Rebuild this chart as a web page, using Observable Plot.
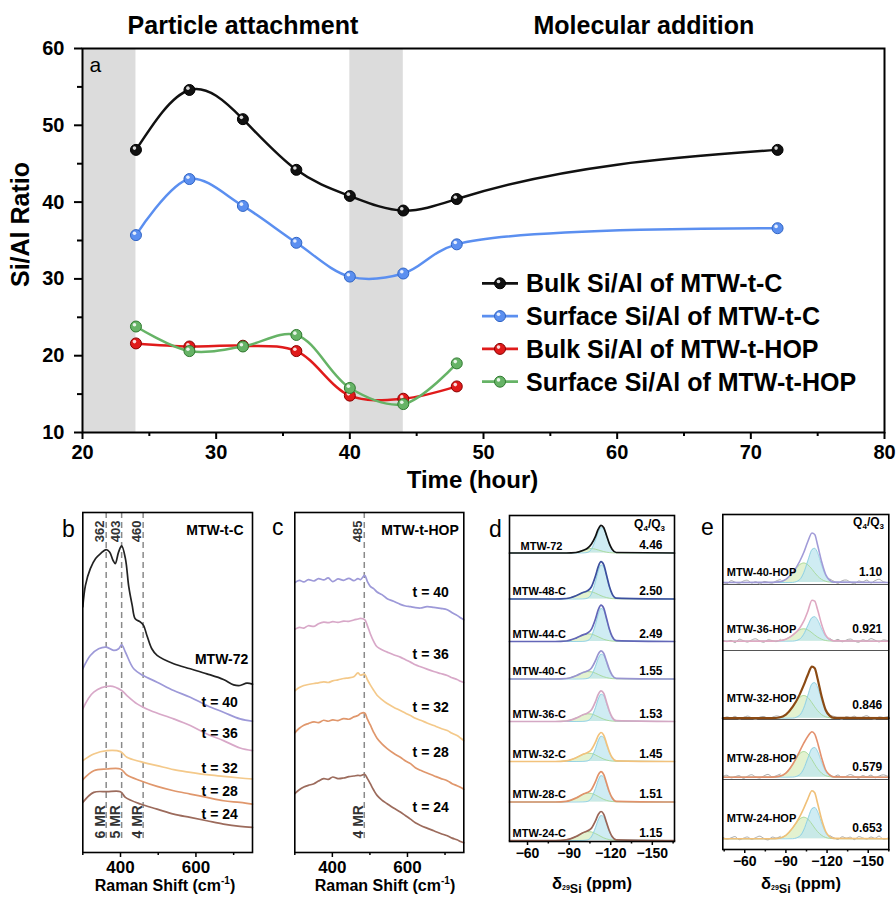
<!DOCTYPE html>
<html><head><meta charset="utf-8">
<script src="https://cdn.jsdelivr.net/npm/d3@7"></script>
<script src="https://cdn.jsdelivr.net/npm/@observablehq/plot@0.6"></script>
<style>
html,body{margin:0;padding:0;background:#fff;}
#root{position:relative;width:896px;height:897px;overflow:hidden;background:#fff;}
</style></head>
<body><div id="root"></div>
<script>
const FONT = "'Liberation Sans', Arial, Helvetica, sans-serif";

// ---------------- Panel a data ----------------
const hoursC = [24, 28, 32, 36, 40, 44, 48, 72];
const bulkC = [46.8, 54.6, 50.8, 44.2, 40.8, 38.9, 40.4, 46.8];
const surfC = [35.7, 43.0, 39.5, 34.7, 30.3, 30.7, 34.5, 36.6];
const hoursHOP = [24, 28, 32, 36, 40, 44, 48];
const bulkHOP = [21.6, 21.2, 21.3, 20.6, 14.8, 14.4, 16.0];
const surfHOP = [23.8, 20.6, 21.2, 22.7, 15.8, 13.7, 19.0];
const seriesNames = ["Bulk Si/Al of MTW-t-C", "Surface Si/Al of MTW-t-C", "Bulk Si/Al of MTW-t-HOP", "Surface Si/Al of MTW-t-HOP"];
const seriesColors = ["#111111", "#5b8ff0", "#e01b1b", "#66b366"];
const seriesEdge = ["#000000", "#3064c4", "#8a0000", "#2f7a2f"];
const bandStart = [20, 40];
const bandEnd = [24, 44];
const phaseNames = ["Particle attachment", "Molecular addition"];
const phaseStart = [20, 44];
const phaseEnd = [44, 80];
const xTicksA = [20, 30, 40, 50, 60, 70, 80];
const xMinorA = [25, 35, 45, 55, 65, 75];
const yTicksA = [10, 20, 30, 40, 50, 60];
const yMinorA = [15, 25, 35, 45, 55];

// ---------------- Panel b data (Raman, MTW-t-C) ----------------
const bNames = ["MTW-72", "t = 40", "t = 36", "t = 32", "t = 28", "t = 24"];
const bColors = ["#222222", "#9d99d8", "#d8a8c8", "#f4c98a", "#e0976c", "#9c6b5c"];
const bShift72 = [300,307,320,334,347,362,371,380,386,395,403,413,422,431,439,453,461,470,483,497,541,585,629,673,700,717,735,750];
const bInt72 = [735,800,850,880,895,907,900,875,865,900,918,880,795,740,700,690,680,650,610,590,565,550,535,518,502,500,507,504];
const bShift40 = [300,320,342,362,382,395,403,413,435,460,497,541,585,629,673,717,750];
const bInt40 = [550,590,610,615,605,610,622,600,550,530,510,485,465,440,420,400,393];
const bShift36 = [300,329,373,403,417,444,479,541,585,629,673,717,750];
const bInt36 = [430,480,498,485,470,445,425,400,380,355,335,313,305];
const bShift32 = [300,329,364,400,417,453,497,541,585,629,673,717,750];
const bInt32 = [275,295,305,302,285,272,260,248,240,233,228,223,220];
const bShift28 = [300,329,364,400,417,453,497,541,585,629,673,717,750];
const bInt28 = [218,245,250,250,232,215,198,185,175,165,155,150,145];
const bShift24 = [300,329,364,400,413,453,497,541,585,629,673,717,750];
const bInt24 = [150,180,182,182,165,145,130,115,105,95,85,78,75];
const bPeaks = [362, 403, 460];
const bModes = ["6 MR", "5 MR", "4 MR"];
const bLabelX = [739, 711, 711, 711, 711, 711];
const bLabelY = [565, 435, 342, 238, 170, 100];

// ---------------- Panel c data (Raman, MTW-t-HOP) ----------------
const cNames = ["t = 40", "t = 36", "t = 32", "t = 28", "t = 24"];
const cColors = ["#9d99d8", "#d8a8c8", "#f4c98a", "#e0976c", "#9c6b5c"];
const cShift = [300,312,324,336,351,363,377,389,401,415,430,444,457,468,475,486,493,501,510,519,532,546,563,581,595,608,621,635,652,670,688,706,719,732,741,750];
const cInt40 = [808,815,810,817,813,820,816,822,811,819,815,821,814,820,817,830,812,797,790,780,772,760,752,743,738,736,733,732,736,734,731,727,718,710,703,697];
const cInt36 = [668,674,672,679,677,685,690,688,691,689,693,692,696,699,701,697,680,655,632,616,607,600,592,585,577,570,562,556,549,542,536,530,523,518,513,509];
const cInt32 = [484,494,500,503,506,508,511,509,514,517,521,523,526,538,531,534,518,502,486,471,458,446,435,425,417,410,402,396,388,380,372,365,357,350,343,335];
const cInt28 = [358,372,381,386,391,389,396,393,397,395,401,399,406,410,416,418,400,382,360,342,325,311,297,285,274,266,254,246,238,230,222,215,206,200,195,189];
const cInt24 = [176,188,196,201,206,214,221,219,226,221,223,227,229,231,230,234,222,206,187,171,157,146,133,121,110,100,89,81,73,65,57,50,43,38,33,29];
const cPeaks = [485];
const cModes = ["4 MR"];
const cLabelX = [710, 710, 710, 710, 710];
const cLabelY = [765, 580, 420, 285, 120];

// ---------------- Panel d data (29Si NMR, MTW-t-C) ----------------
const dPpm = [-47,-80,-88,-95,-100,-103,-106,-109,-111,-113,-115,-117,-119,-121,-124,-166];
const dSamples = ["MTW-72","MTW-48-C","MTW-44-C","MTW-40-C","MTW-36-C","MTW-32-C","MTW-28-C","MTW-24-C"];
const dRatios = ["4.46","2.50","2.49","1.55","1.53","1.45","1.51","1.15"];
const dColors = ["#111111","#3c4f9e","#6366b8","#9994d0","#d4a8c4","#f2c27c","#e0926a","#9a6658"];
const dOffsets = [288.5, 242.5, 200, 162.5, 120, 80, 39.5, 1];
const dEnv = [
  [0,0,0,0.5,2.6,4.5,8.8,16.7,23.8,27.6,25.3,17.5,9.4,3.8,0.5,0],
  [0,0,0.5,3.3,6.5,8.1,12,23,32.4,37.3,34.1,23.7,12.8,5.2,0.9,0],
  [0,0,0.5,3.4,6.6,8.3,12.1,22.6,31.7,36.4,33.2,23,12.5,5.1,0.9,0],
  [0,0,0.5,3.3,6.5,7.9,10.7,18.3,24.9,28.1,25.5,17.7,9.6,3.9,0.7,0],
  [0,0,0.5,3.4,6.7,8.3,11.4,19.8,27.2,30.7,28,19.3,10.5,4.3,0.8,0],
  [0,0,0.6,3.7,7.2,8.8,11.7,19.3,25.8,29,26.2,18.1,9.8,4,0.7,0],
  [0,0,0.6,4,7.8,9.4,12.3,20.3,27.1,30.4,27.4,19,10.2,4.2,0.7,0],
  [0,0,0.6,4,7.8,9.4,12.1,19.6,26,29,26.1,18,9.8,4,0.7,0]
];
const dQ4 = [
  [0,0,0,0,0.1,0.5,3.6,12.9,20.8,25.4,23.9,16.7,9,3.6,0.5,0],
  [0,0,0,0,0.1,0.7,4.8,17.2,27.8,34,31.9,22.3,12,4.8,0.7,0],
  [0,0,0,0,0.1,0.7,4.7,16.7,27,33,31,21.6,11.7,4.7,0.7,0],
  [0,0,0,0,0.1,0.5,3.5,12.5,20.3,24.8,23.3,16.3,8.8,3.5,0.5,0],
  [0,0,0,0,0.1,0.6,3.9,13.8,22.4,27.3,25.7,17.9,9.7,3.9,0.6,0],
  [0,0,0,0,0.1,0.5,3.6,12.8,20.7,25.3,23.8,16.6,9,3.6,0.5,0],
  [0,0,0,0,0.1,0.5,3.7,13.4,21.6,26.4,24.8,17.4,9.3,3.7,0.5,0],
  [0,0,0,0,0.1,0.5,3.5,12.7,20.5,25,23.5,16.4,8.9,3.5,0.5,0]
];
const dQ3 = [
  [0,0,0,0.5,2.5,4,4.5,3.8,3,2.2,1.4,0.8,0.4,0.2,0,0],
  [0,0,0.5,3.3,6.4,7.4,7.2,5.8,4.6,3.3,2.2,1.4,0.8,0.4,0.2,0],
  [0,0,0.5,3.4,6.5,7.6,7.4,5.9,4.7,3.4,2.2,1.4,0.8,0.4,0.2,0],
  [0,0,0.5,3.3,6.4,7.4,7.2,5.8,4.6,3.3,2.2,1.4,0.8,0.4,0.2,0],
  [0,0,0.5,3.4,6.6,7.7,7.5,6,4.8,3.4,2.3,1.4,0.8,0.4,0.2,0],
  [0,0,0.6,3.7,7.1,8.3,8.1,6.5,5.1,3.7,2.4,1.5,0.8,0.4,0.2,0],
  [0,0,0.6,4,7.7,8.9,8.6,6.9,5.5,4,2.6,1.6,0.9,0.5,0.2,0],
  [0,0,0.6,4,7.7,8.9,8.6,6.9,5.5,4,2.6,1.6,0.9,0.5,0.2,0]
];

// ---------------- Panel e data (29Si NMR, MTW-t-HOP) ----------------
const ePpm = [-44,-80,-85,-90,-95,-100,-103,-106,-109,-111,-113,-116,-119,-122,-125,-165];
const eSamples = ["MTW-40-HOP","MTW-36-HOP","MTW-32-HOP","MTW-28-HOP","MTW-24-HOP"];
const eRatios = ["1.10","0.921","0.846","0.579","0.653"];
const eColors = ["#a19bd8","#dfa8c2","#8b4a14","#e3916e","#f0c078"];
const eWidths = [1.6, 1.6, 2.2, 1.6, 1.6];
const eOffsets = [267, 208.3, 131.3, 72.3, 10.7];
const eSeparators = [265, 199, 130, 70];
const eNameY = [274, 216.3, 147.3, 87.3, 27.7];
const eRatioY = [274, 216.3, 140.7, 79, 17.3];
const eEnv = [
  [0,0.1,0.6,3.1,10,21,30,41,49.5,48,38,21,8,2.2,0.4,0],
  [0,0.1,0.5,2,6,13,20,30,41,40,32,17,6,1.8,0.3,0],
  [0,0.1,0.7,3.6,11.5,23.6,33,43.5,51.5,50,40,22,8.2,2.3,0.4,0],
  [0,0.1,0.8,4.1,13,25.8,34,41,45.5,43,35,19.5,7.2,2,0.3,0],
  [0,0.1,0.6,3.5,11,22,30.5,40,48,46,36,19.5,7.3,2,0.4,0]
];
const eQ4 = [
  [0,0,0,0,0.1,2.8,9.7,21.7,32.8,34.2,30,17.3,6.6,1.7,0.3,0],
  [0,0,0,0,0.1,2,6.9,15.6,23.5,24.5,21.5,12.4,4.7,1.2,0.2,0],
  [0,0,0,0,0.1,2.9,10.1,22.7,34.2,35.6,31.3,18,6.8,1.8,0.3,0],
  [0,0,0,0,0.1,2.4,8.4,18.9,28.5,29.7,26.1,15,5.7,1.5,0.2,0],
  [0,0,0,0,0.1,2.5,8.8,19.9,30,31.3,27.5,15.8,6,1.6,0.3,0]
];
const eQ3 = [
  [0,0.1,0.6,3.1,9.8,17.7,19.5,17.7,13.3,9.8,6.6,3.1,1.2,0.4,0.1,0],
  [0,0,0.4,2,6.2,11.3,12.4,11.3,8.4,6.2,4.2,2,0.7,0.2,0.1,0],
  [0,0.1,0.7,3.6,11.4,20.7,22.7,20.7,15.4,11.4,7.7,3.6,1.4,0.5,0.1,0],
  [0,0.1,0.8,4.1,12.9,23.4,25.7,23.4,17.5,12.9,8.7,4.1,1.5,0.5,0.1,0],
  [0,0.1,0.6,3.5,10.8,19.7,21.6,19.7,14.7,10.8,7.3,3.5,1.3,0.4,0.1,0]
];
const eNoiseLeftPpm = [-44,-47,-50,-53,-56,-59,-62,-65,-68,-71,-74,-77,-80,-83,-86];
const eNoiseRightPpm = [-122,-125,-128,-131,-134,-137,-140,-143,-146,-149,-152,-155,-158,-161,-165];
const eNoiseLeft = [
  [0.5,-1.2,1.8,0.3,-0.8,1.5,2.2,-0.5,0.8,-1.5,1.0,0.2,-0.6,1.6,3.0],
  [1.0,-0.5,0.8,-1.4,2.0,0.5,-0.9,1.2,2.4,0.1,-1.0,1.4,0.6,-0.4,1.8],
  [-0.6,1.4,0.2,1.9,-1.0,0.8,2.1,0.4,-1.3,1.1,1.7,-0.2,0.9,2.3,1.5],
  [0.8,2.0,-0.7,0.5,1.6,-1.2,0.9,2.5,0.2,-0.8,1.3,2.8,0.4,1.5,3.2],
  [1.5,-0.3,0.9,2.2,-0.9,0.6,1.8,-0.5,1.2,2.6,0.3,-1.1,1.7,0.8,2.4]
];
const eNoiseRight = [
  [3.5,1.2,-0.8,1.8,2.5,0.3,-1.2,1.5,0.6,2.4,-0.5,1.9,3.2,0.8,-0.4],
  [2.8,0.5,1.8,-0.6,1.1,2.2,0.2,-1.1,1.5,0.4,2.6,1.0,-0.7,1.3,0.2],
  [3.0,1.8,0.3,-0.9,1.6,0.6,2.0,-0.4,1.2,2.5,0.1,-1.0,1.4,0.7,1.9],
  [2.5,0.6,2.2,-0.3,1.0,2.7,0.8,-1.0,1.7,0.3,2.1,-0.6,1.2,2.4,0.5],
  [3.2,1.0,-0.5,2.0,0.7,1.6,-0.8,2.3,0.9,-0.2,1.8,0.5,2.7,-0.4,1.1]
];

// ================= curve: natural cubic spline in x (as in the source plotting software) =================
function NaturalX(context) { this._context = context; }
NaturalX.prototype = {
  areaStart() { this._line = 0; },
  areaEnd() { this._line = NaN; },
  lineStart() { this._x = []; this._y = []; },
  point(x, y) { this._x.push(+x); this._y.push(+y); },
  lineEnd() {
    const x = this._x, y = this._y, n = x.length, ctx = this._context;
    if (n) {
      this._line ? ctx.lineTo(x[0], y[0]) : ctx.moveTo(x[0], y[0]);
      if (n === 2) ctx.lineTo(x[1], y[1]);
      else if (n > 2) {
        const h = [];
        for (let i = 0; i < n - 1; i++) h.push(x[i + 1] - x[i]);
        const a = [], b = [], c = [], d = [];
        for (let i = 1; i < n - 1; i++) {
          a.push(h[i - 1]); b.push(2 * (h[i - 1] + h[i])); c.push(h[i]);
          d.push(6 * ((y[i + 1] - y[i]) / h[i] - (y[i] - y[i - 1]) / h[i - 1]));
        }
        const m = b.length;
        for (let i = 1; i < m; i++) { const w = a[i] / b[i - 1]; b[i] -= w * c[i - 1]; d[i] -= w * d[i - 1]; }
        const sol = new Array(m);
        sol[m - 1] = d[m - 1] / b[m - 1];
        for (let i = m - 2; i >= 0; i--) sol[i] = (d[i] - c[i] * sol[i + 1]) / b[i];
        const M = [0, ...sol, 0];
        for (let i = 0; i < n - 1; i++) {
          const s = (y[i + 1] - y[i]) / h[i];
          const m0 = s - h[i] * (2 * M[i] + M[i + 1]) / 6;
          const m1 = s + h[i] * (M[i] + 2 * M[i + 1]) / 6;
          ctx.bezierCurveTo(x[i] + h[i] / 3, y[i] + m0 * h[i] / 3, x[i + 1] - h[i] / 3, y[i + 1] - m1 * h[i] / 3, x[i + 1], y[i + 1]);
        }
      }
    }
    if (this._line || (this._line !== 0 && n === 1)) ctx.closePath();
    this._line = 1 - this._line;
    this._x = this._y = null;
  }
};
const curveNaturalX = (context) => new NaturalX(context);
const seriesCurves = [curveNaturalX, "catmull-rom", "catmull-rom", "catmull-rom"];

// ================= build =================
const root = document.getElementById("root");
function place(node, left, top) {
  node.style.position = "absolute";
  node.style.left = left + "px";
  node.style.top = top + "px";
  root.appendChild(node);
}
const baseStyle = (size) => ({fontFamily: FONT, fontSize: size + "px", fontWeight: "bold", color: "#000", background: "transparent", overflow: "visible"});

// ---- Panel a ----
const seriesData = [
  hoursC.map((t, i) => ({t, v: bulkC[i]})),
  hoursC.map((t, i) => ({t, v: surfC[i]})),
  hoursHOP.map((t, i) => ({t, v: bulkHOP[i]})),
  hoursHOP.map((t, i) => ({t, v: surfHOP[i]}))
];
const aMarks = [
  Plot.rect(bandStart.map((s, i) => ({x1: s, x2: bandEnd[i]})), {x1: "x1", x2: "x2", fill: "#dcdcdc"})
];
seriesData.forEach((data, k) => {
  aMarks.push(Plot.line(data, {x: "t", y: "v", stroke: seriesColors[k], strokeWidth: 2.5, curve: seriesCurves[k]}));
});
seriesData.forEach((data, k) => {
  aMarks.push(Plot.dot(data, {x: "t", y: "v", r: 5.5, fill: seriesColors[k], stroke: seriesEdge[k], strokeWidth: 1}));
  aMarks.push(Plot.dot(data, {x: "t", y: "v", r: 1.8, fill: "white", fillOpacity: 0.85, dx: -1.5, dy: -1.8}));
});
aMarks.push(
  Plot.frame({stroke: "#000", strokeWidth: 2}),
  Plot.axisX({ticks: xTicksA, tickSize: 7, tickPadding: 5, label: null, fontSize: 20, fontWeight: "bold", strokeWidth: 2}),
  Plot.axisX({ticks: xMinorA, tickSize: 4, tickFormat: () => "", label: null, strokeWidth: 2}),
  Plot.axisY({ticks: yTicksA, tickSize: 8, tickPadding: 10, label: null, fontSize: 20, fontWeight: "bold", strokeWidth: 2}),
  Plot.axisY({ticks: yMinorA, tickSize: 5, tickFormat: () => "", label: null, strokeWidth: 2}),
  Plot.text(phaseNames.map((p, i) => ({name: p, mid: (phaseStart[i] + phaseEnd[i]) / 2})),
    {x: "mid", text: "name", frameAnchor: "top", dy: -15, lineAnchor: "bottom", fontSize: 25, fontWeight: "bold"}),
  Plot.text(["Time (hour)"], {text: d => d, frameAnchor: "bottom", dx: -11, dy: 48, lineAnchor: "middle", fontSize: 24, fontWeight: "bold"}),
  Plot.text(["Si/Al Ratio"], {text: d => d, frameAnchor: "left", rotate: -90, dx: -62, dy: -16, lineAnchor: "middle", textAnchor: "middle", fontSize: 25, fontWeight: "bold"}),
  Plot.text(["a"], {text: d => d, frameAnchor: "top-left", dx: 7, dy: 9, lineAnchor: "top", textAnchor: "start", fontSize: 21, fontWeight: "normal"})
);
const A = Plot.plot({
  width: 896, height: 500, marginLeft: 82, marginRight: 12, marginTop: 48, marginBottom: 68,
  style: baseStyle(20),
  x: {domain: [20, 80]}, y: {domain: [10, 60]},
  marks: aMarks
});
place(A, 0, 0);

// ---- Raman helper ----
function ramanPanel(opts) {
  const marks = [
    Plot.ruleX(opts.peaks, {x: d => d, stroke: "#8a8a8a", strokeWidth: 1.5, strokeDasharray: "6,4", insetBottom: 12})
  ];
  opts.series.forEach((s) => {
    marks.push(Plot.line(s.x.map((x, i) => ({x, y: s.y[i]})), {x: "x", y: "y", stroke: s.color, strokeWidth: 1.7, curve: "catmull-rom"}));
  });
  marks.push(
    Plot.text(opts.peaks, {x: d => d, text: d => String(d), frameAnchor: "top", rotate: -90, textAnchor: "end", lineAnchor: "middle", dx: -6, dy: 8, fontSize: 13, fontWeight: "bold", fill: "#333"}),
    Plot.text(opts.peaks.map((p, i) => ({x: p, t: opts.modes[i]})), {x: "x", text: "t", frameAnchor: "bottom", rotate: -90, textAnchor: "start", lineAnchor: "middle", dx: -6, dy: -14, fontSize: 14, fontWeight: "bold", fill: "#333"}),
    Plot.text(opts.labels, {x: "x", y: "y", text: "name", textAnchor: "end", lineAnchor: "bottom", fontSize: 14, fontWeight: "bold"}),
    Plot.text([opts.title], {text: d => d, frameAnchor: "top-right", textAnchor: "end", lineAnchor: "bottom", dx: opts.titleDx, dy: 22, fontSize: 14, fontWeight: "bold"}),
    Plot.frame({stroke: "#000", strokeWidth: 1.6}),
    Plot.axisX({ticks: [400, 600], tickSize: 5, tickPadding: 3, label: null, fontSize: 17, fontWeight: "bold", strokeWidth: 1.5}),
    Plot.axisX({ticks: [300, 500, 700], tickSize: 3, tickFormat: () => "", label: null, strokeWidth: 1.5})
  );
  return Plot.plot({
    width: opts.width, height: 442,
    marginLeft: opts.ml, marginRight: opts.mr, marginTop: 57, marginBottom: 45,
    style: baseStyle(16),
    x: {domain: [300, 750]}, y: {domain: [0, 1018], axis: null},
    marks
  });
}
const bSeries = [
  {x: bShift72, y: bInt72}, {x: bShift40, y: bInt40}, {x: bShift36, y: bInt36},
  {x: bShift32, y: bInt32}, {x: bShift28, y: bInt28}, {x: bShift24, y: bInt24}
].map((s, i) => ({...s, color: bColors[i]}));
const B = ramanPanel({
  width: 230, ml: 42.3, mr: 18, peaks: bPeaks, modes: bModes, series: bSeries,
  labels: bNames.map((n, i) => ({name: n, x: bLabelX[i], y: bLabelY[i]})),
  title: "MTW-t-C", titleDx: -9
});
place(B, 40, 455);

const cSeries = [cInt40, cInt36, cInt32, cInt28, cInt24].map((y, i) => ({x: cShift, y, color: cColors[i]}));
const C = ramanPanel({
  width: 220, ml: 34.3, mr: 16.7, peaks: cPeaks, modes: cModes, series: cSeries,
  labels: cNames.map((n, i) => ({name: n, x: cLabelX[i], y: cLabelY[i]})),
  title: "MTW-t-HOP", titleDx: -5
});
place(C, 260, 455);

// ---- NMR helper ----
function nmrRows(ppm, samples, offsets, env, q4, q3) {
  const rows = [];
  samples.forEach((s, i) => {
    ppm.forEach((p, j) => {
      rows.push({sample: s, ppm: p, base: offsets[i], env: offsets[i] + env[i][j], q4: offsets[i] + q4[i][j], q3: offsets[i] + q3[i][j]});
    });
  });
  return rows;
}
function componentMarks(rows) {
  return [
    Plot.areaY(rows, {x: "ppm", y1: "base", y2: "q3", z: "sample", fill: "#dcefc4", fillOpacity: 0.8, curve: "monotone-x"}),
    Plot.areaY(rows, {x: "ppm", y1: "base", y2: "q4", z: "sample", fill: "#bfe6ef", fillOpacity: 0.75, curve: "monotone-x"}),
    Plot.line(rows, {x: "ppm", y: "q3", z: "sample", stroke: "#a6d898", strokeWidth: 0.9, curve: "monotone-x"}),
    Plot.line(rows, {x: "ppm", y: "q4", z: "sample", stroke: "#8ccfe0", strokeWidth: 0.9, curve: "monotone-x"})
  ];
}

// ---- Panel d ----
const dRows = nmrRows(dPpm, dSamples, dOffsets, dEnv, dQ4, dQ3);
const dLabelRows = dSamples.map((s, i) => ({name: s, ratio: dRatios[i], y: dOffsets[i]}));
const dMarks = [...componentMarks(dRows)];
dSamples.forEach((s, i) => {
  dMarks.push(Plot.line(dRows.filter(r => r.sample === s), {x: "ppm", y: "env", stroke: dColors[i], strokeWidth: 1.7, curve: "monotone-x"}));
});
dMarks.push(
  Plot.text(dLabelRows.slice(0, 1), {y: "y", text: "name", frameAnchor: "left", textAnchor: "start", lineAnchor: "bottom", dx: 11, dy: -3, fontSize: 11, fontWeight: "bold"}),
  Plot.text(dLabelRows.slice(1), {y: "y", text: "name", frameAnchor: "left", textAnchor: "start", lineAnchor: "bottom", dx: 3, dy: -4, fontSize: 11, fontWeight: "bold"}),
  Plot.text(dLabelRows, {y: "y", text: "ratio", frameAnchor: "right", textAnchor: "end", lineAnchor: "bottom", dx: -12, dy: -4, fontSize: 12, fontWeight: "bold"}),
  Plot.frame({stroke: "#000", strokeWidth: 1.6}),
  Plot.axisX({ticks: [-60, -90, -120, -150], tickSize: 4, tickPadding: 3, label: null, fontSize: 14, fontWeight: "bold", strokeWidth: 1.5}),
  Plot.axisX({ticks: [-75, -105, -135, -165], tickSize: 2.5, tickFormat: () => "", label: null, strokeWidth: 1.5})
);
const D = Plot.plot({
  width: 220, height: 442, marginLeft: 39, marginRight: 16, marginTop: 60, marginBottom: 56,
  style: baseStyle(14),
  x: {domain: [-47, -166]}, y: {domain: [0, 326], axis: null},
  marks: dMarks
});
place(D, 470, 455);

// ---- Panel e ----
const eRows = nmrRows(ePpm, eSamples, eOffsets, eEnv, eQ4, eQ3);
const eNoise = [];
eSamples.forEach((s, i) => {
  eNoiseLeftPpm.forEach((p, j) => eNoise.push({g: s + "L", ppm: p, y: eOffsets[i] + eNoiseLeft[i][j]}));
  eNoiseRightPpm.forEach((p, j) => eNoise.push({g: s + "R", ppm: p, y: eOffsets[i] + eNoiseRight[i][j]}));
});
const eMarks = [
  Plot.ruleY(eSeparators, {y: d => d, stroke: "#555", strokeWidth: 1}),
  ...componentMarks(eRows),
  Plot.line(eNoise, {x: "ppm", y: "y", z: "g", stroke: "#a9a9a9", strokeWidth: 1, curve: "catmull-rom"})
];
eSamples.forEach((s, i) => {
  eMarks.push(Plot.line(eRows.filter(r => r.sample === s), {x: "ppm", y: "env", stroke: eColors[i], strokeWidth: eWidths[i], curve: "monotone-x"}));
});
eMarks.push(
  Plot.text(eSamples.map((s, i) => ({name: s, y: eNameY[i]})), {y: "y", text: "name", frameAnchor: "left", textAnchor: "start", lineAnchor: "bottom", dx: 4, fontSize: 11, fontWeight: "bold"}),
  Plot.text(eRatios.map((r, i) => ({ratio: r, y: eRatioY[i]})), {y: "y", text: "ratio", frameAnchor: "right", textAnchor: "end", lineAnchor: "bottom", dx: -6.5, fontSize: 12, fontWeight: "bold"}),
  Plot.frame({stroke: "#000", strokeWidth: 1.6}),
  Plot.axisX({ticks: [-60, -90, -120, -150], tickSize: 4, tickPadding: 3, label: null, fontSize: 14, fontWeight: "bold", strokeWidth: 1.5}),
  Plot.axisX({ticks: [-45, -75, -105, -135, -165], tickSize: 2.5, tickFormat: () => "", label: null, strokeWidth: 1.5})
);
const E = Plot.plot({
  width: 216, height: 442, marginLeft: 42.3, marginRight: 7.7, marginTop: 59, marginBottom: 48,
  style: baseStyle(14),
  x: {domain: [-44, -165]}, y: {domain: [0, 335], axis: null},
  marks: eMarks
});
place(E, 680, 455);

// ---- overlay: legend, panel letters, axis titles with sub/superscripts ----
const ov = d3.create("svg").attr("width", 896).attr("height", 897)
  .style("position", "absolute").style("left", "0px").style("top", "0px")
  .style("pointer-events", "none").attr("font-family", FONT);

// legend for panel a
const legendTop = 283.3, legendStep = 32.8;
seriesNames.forEach((name, k) => {
  const cy = legendTop + k * legendStep;
  ov.append("line").attr("x1", 482).attr("x2", 518).attr("y1", cy).attr("y2", cy)
    .attr("stroke", seriesColors[k]).attr("stroke-width", 2.8);
  ov.append("circle").attr("cx", 500).attr("cy", cy).attr("r", 5.5)
    .attr("fill", seriesColors[k]).attr("stroke", seriesEdge[k]).attr("stroke-width", 1);
  ov.append("circle").attr("cx", 498.5).attr("cy", cy - 1.8).attr("r", 1.8).attr("fill", "white").attr("fill-opacity", 0.85);
  ov.append("text").attr("x", 526).attr("y", cy + 9).attr("font-size", 25).attr("font-weight", "bold").text(name);
});

// panel letters
[["b", 62, 537], ["c", 272, 535], ["d", 489, 537], ["e", 701, 535]].forEach(([t, x, y]) => {
  ov.append("text").attr("x", x).attr("y", y).attr("font-size", 23).text(t);
});

// Raman axis titles
[[165, 891], [385, 891]].forEach(([x, y]) => {
  const t = ov.append("text").attr("x", x).attr("y", y).attr("text-anchor", "middle")
    .attr("font-size", 16).attr("font-weight", "bold");
  t.append("tspan").text("Raman Shift (cm");
  t.append("tspan").attr("font-size", 10).attr("dy", -7).text("-1");
  t.append("tspan").attr("dy", 7).text(")");
});
// NMR axis titles
[[592, 889], [801, 889]].forEach(([x, y]) => {
  const t = ov.append("text").attr("x", x).attr("y", y).attr("text-anchor", "middle")
    .attr("font-size", 16.5).attr("font-weight", "bold");
  t.append("tspan").text("δ");
  t.append("tspan").attr("font-size", 7).attr("dy", 1).text("29");
  t.append("tspan").attr("font-size", 12.5).attr("dy", 2.5).text("Si");
  t.append("tspan").attr("dy", -3.5).text(" (ppm)");
});
// Q4/Q3 headers
[[665, 528], [884, 526]].forEach(([x, y]) => {
  const t = ov.append("text").attr("x", x).attr("y", y).attr("text-anchor", "end")
    .attr("font-size", 12).attr("font-weight", "bold");
  t.append("tspan").text("Q");
  t.append("tspan").attr("font-size", 8).attr("dy", 3).text("4");
  t.append("tspan").attr("dy", -3).text("/Q");
  t.append("tspan").attr("font-size", 8).attr("dy", 3).text("3");
});
root.appendChild(ov.node());
</script>
</body></html>
